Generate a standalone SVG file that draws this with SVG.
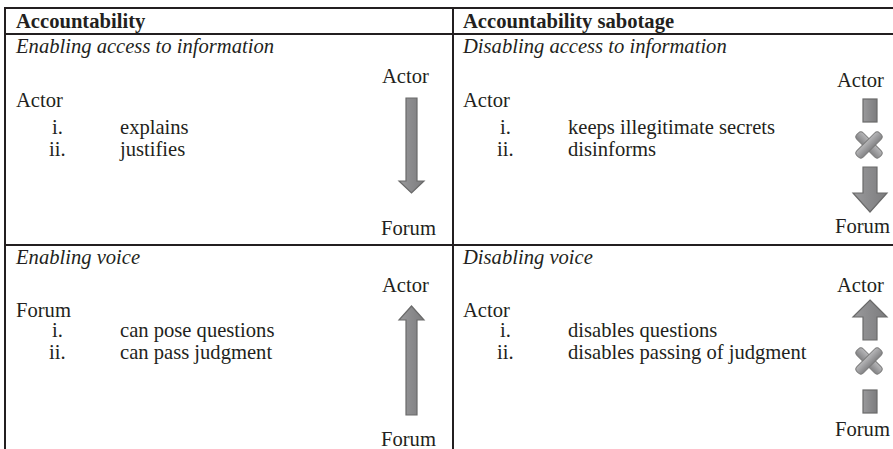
<svg xmlns="http://www.w3.org/2000/svg" width="893" height="449" viewBox="0 0 893 449">
<defs>
<style>
text{font-family:"Liberation Serif","DejaVu Serif",serif;font-size:20.6px;fill:#231f20}
.b{font-weight:bold}
.it{font-style:italic}
.ln{stroke:#231f20;stroke-width:2;fill:none}
.arr{fill:url(#g);stroke:#6a6a6a;stroke-width:1.2}
.xm{fill:url(#gx);stroke:#7a7a7a;stroke-width:1}
</style>
<linearGradient id="g" x1="0" y1="0" x2="1" y2="0">
<stop offset="0" stop-color="#9a9a9c"/>
<stop offset="0.5" stop-color="#8a8a8c"/>
<stop offset="1" stop-color="#7c7c7e"/>
</linearGradient>
<linearGradient id="gx" x1="0" y1="0" x2="0" y2="1">
<stop offset="0" stop-color="#b8b8ba"/>
<stop offset="1" stop-color="#838385"/>
</linearGradient>
<g id="xmark">
<rect class="xm" x="-16" y="-4.5" width="32" height="9" rx="3.5" transform="rotate(45)"/>
<rect class="xm" x="-16" y="-4.5" width="32" height="9" rx="3.5" transform="rotate(-45)"/>
</g>
</defs>
<rect width="893" height="449" fill="#ffffff"/>
<g id="table-lines">
<line class="ln" x1="4" y1="8" x2="893" y2="8"/>
<line class="ln" x1="4" y1="34" x2="893" y2="34"/>
<line class="ln" x1="4" y1="245" x2="893" y2="245"/>
<line class="ln" x1="5" y1="7" x2="5" y2="449"/>
<line class="ln" x1="453" y1="7" x2="453" y2="449"/>
</g>
<g id="header-left"><text class="b" x="16" y="28">Accountability</text></g>
<g id="header-right"><text class="b" x="463" y="28">Accountability sabotage</text></g>

<g id="cell-enabling-access">
<text class="it" x="16" y="53">Enabling access to information</text>
<text x="16" y="107">Actor</text>
<text x="52" y="134">i.</text><text x="120" y="134">explains</text>
<text x="49" y="156">ii.</text><text x="120" y="156">justifies</text>
<text x="382" y="83">Actor</text>
<text x="381" y="235">Forum</text>
</g>
<g id="cell-disabling-access">
<text class="it" x="463" y="53">Disabling access to information</text>
<text x="463" y="107">Actor</text>
<text x="500" y="134">i.</text><text x="568" y="134">keeps illegitimate secrets</text>
<text x="497" y="156">ii.</text><text x="568" y="156">disinforms</text>
<text x="837" y="87">Actor</text>
<text x="835" y="233">Forum</text>
</g>
<g id="cell-enabling-voice">
<text class="it" x="16" y="264">Enabling voice</text>
<text x="16" y="317">Forum</text>
<text x="52" y="337">i.</text><text x="120" y="337">can pose questions</text>
<text x="49" y="359">ii.</text><text x="120" y="359">can pass judgment</text>
<text x="382" y="292">Actor</text>
<text x="381" y="446">Forum</text>
</g>
<g id="cell-disabling-voice">
<text class="it" x="463" y="264">Disabling voice</text>
<text x="463" y="317">Actor</text>
<text x="500" y="337">i.</text><text x="568" y="337">disables questions</text>
<text x="497" y="359">ii.</text><text x="568" y="359">disables passing of judgment</text>
<text x="837" y="292">Actor</text>
<text x="835" y="436">Forum</text>
</g>

<g id="connectors">
<polygon class="arr" points="406,98 417,98 417,181 424,181 411.5,193 399,181 406,181"/>
<polygon class="arr" points="411.5,306 424,320 417,320 417,415 406,415 406,320 399,320"/>
<rect class="arr" x="863" y="99" width="14" height="23"/>
<use href="#xmark" x="869" y="145"/>
<polygon class="arr" points="863,167 877,167 877,193 887,193 870,212 853,193 863,193"/>
<polygon class="arr" points="870,300 887,317 877,317 877,340 863,340 863,317 853,317"/>
<use href="#xmark" x="869" y="361"/>
<rect class="arr" x="863" y="390" width="14" height="23"/>
</g>
</svg>
